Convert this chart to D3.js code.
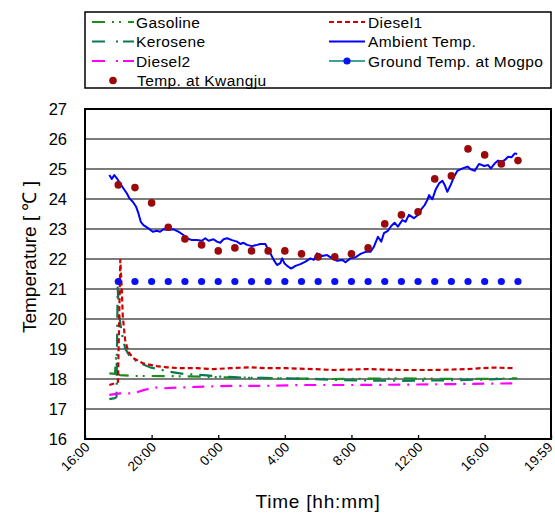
<!DOCTYPE html>
<html>
<head>
<meta charset="utf-8">
<script src="https://cdn.jsdelivr.net/npm/d3@7"></script>
<style>
  body { margin: 0; background: #fff; }
  svg { display: block; font-family: "Liberation Sans", Arial, sans-serif; }
</style>
</head>
<body>
<svg id="chart" width="555" height="514"></svg>
<script>
// Time is expressed as hours elapsed since 16:00 on the first day.
const xTickHours = [0, 4, 8, 12, 16, 20, 24, 27 + 59 / 60];
const xTickLabels = ["16:00", "20:00", "0:00", "4:00", "8:00", "12:00", "16:00", "19:59"];
const yTicks = [16, 17, 18, 19, 20, 21, 22, 23, 24, 25, 26, 27];

// Hourly station readings (18:00 .. 18:00 next day)
const stationHours = [2, 3, 4, 5, 6, 7, 8, 9, 10, 11, 12, 13, 14, 15, 16, 17, 18, 19, 20, 21, 22, 23, 24, 25, 26];
const kwangjuTemp = [24.47, 24.38, 23.87, 23.06, 22.67, 22.47, 22.27, 22.37, 22.27, 22.27, 22.27, 22.17, 22.07,
  22.07, 22.17, 22.37, 23.17, 23.47, 23.57, 24.67, 24.77, 25.67, 25.47, 25.17, 25.28];
const mogpoGroundTemp = [21.25, 21.25, 21.25, 21.25, 21.25, 21.25, 21.25, 21.25, 21.25, 21.25, 21.25, 21.25, 21.25,
  21.25, 21.25, 21.25, 21.25, 21.25, 21.25, 21.25, 21.25, 21.25, 21.25, 21.25, 21.25];

// Ambient air temperature
const ambientHours = [1.46, 1.61, 1.76, 1.91, 2.11, 2.30, 2.51, 2.67, 2.87, 3.07, 3.21, 3.35, 3.51, 3.81, 4.07, 4.31,
  4.51, 4.71, 5.01, 5.31, 5.61, 5.91, 6.12, 6.42, 6.72, 7.02, 7.22, 7.42, 7.72, 7.92, 8.12, 8.32, 8.53, 8.83, 9.13,
  9.33, 9.52, 9.73, 10.03, 10.33, 10.53, 10.83, 10.93, 11.13, 11.33, 11.53, 11.73, 11.84, 11.97, 12.14, 12.38, 12.64,
  12.94, 13.24, 13.54, 13.74, 13.94, 14.24, 14.54, 14.84, 15.14, 15.45, 15.64, 15.94, 16.25, 16.55, 16.85, 17.15,
  17.35, 17.59, 17.79, 17.95, 18.19, 18.39, 18.59, 18.79, 19.06, 19.25, 19.45, 19.75, 19.99, 20.2, 20.4, 20.56,
  20.66, 20.86, 21.06, 21.26, 21.46, 21.6, 21.76, 21.96, 22.16, 22.36, 22.67, 22.97, 23.16, 23.41, 23.66, 23.97,
  24.21, 24.37, 24.61, 24.81, 25.01, 25.21, 25.41, 25.61, 25.81, 25.95];
const ambientTemp = [24.8, 24.67, 24.8, 24.69, 24.52, 24.36, 24.19, 24.02, 23.91, 23.74, 23.52, 23.24, 23.13, 23.02,
  22.91, 22.94, 22.91, 22.99, 22.97, 22.99, 22.91, 22.8, 22.69, 22.63, 22.63, 22.61, 22.69, 22.61, 22.66, 22.58,
  22.54, 22.66, 22.69, 22.63, 22.58, 22.5, 22.54, 22.47, 22.43, 22.47, 22.5, 22.5, 22.39, 22.19, 21.97, 21.8, 21.86,
  22.02, 21.86, 21.77, 21.68, 21.77, 21.83, 21.91, 22.02, 21.97, 22.19, 22.1, 22.13, 22.02, 21.94, 21.97, 21.89,
  22.02, 22.06, 22.17, 22.24, 22.24, 22.41, 22.74, 22.58, 22.86, 22.94, 23.1, 23.21, 23.08, 23.3, 23.24, 23.47,
  23.36, 23.47, 23.66, 23.8, 23.97, 24.13, 23.99, 24.32, 24.52, 24.61, 24.47, 24.24, 24.47, 24.74, 24.94, 25.02,
  25.08, 24.99, 24.94, 25.17, 25.1, 25.13, 25.02, 25.19, 25.28, 25.24, 25.3, 25.41, 25.39, 25.52, 25.5];

// Fuel temperatures
const gasolineHours = [1.46, 1.80, 1.86, 1.90, 1.95, 2.10, 2.90, 3.91, 5.91, 8.92, 11.92, 14.93, 18.94, 22.95, 25.96];
const gasolineTemp = [18.19, 18.17, 18.7, 18.6, 18.18, 18.13, 18.1, 18.1, 18.09, 18.05, 18.02, 18.0, 18.02, 18.0, 18.02];

const keroseneHours = [1.46, 1.80, 1.89, 1.96, 2.06, 2.21, 2.41, 2.71, 3.31, 3.91, 4.41, 5.11, 5.91, 7.11, 8.12, 8.92,
  9.72, 11.92, 13.73, 14.93, 16.94, 18.94, 20.94, 22.95, 24.95, 25.96];
const keroseneTemp = [17.33, 17.36, 17.4, 21.05, 20.08, 19.52, 19.02, 18.74, 18.52, 18.39, 18.33, 18.24, 18.17, 18.13,
  18.08, 18.06, 18.04, 18.02, 18.0, 17.97, 17.95, 17.94, 17.95, 17.97, 18.0, 18.0];

const diesel1Hours = [1.46, 1.80, 1.98, 2.12, 2.21, 2.27, 2.41, 2.60, 2.90, 3.51, 4.31, 4.91, 5.71, 6.72, 7.71, 8.72,
  9.92, 10.93, 12.13, 13.73, 14.93, 16.94, 18.94, 20.94, 22.95, 23.75, 24.55, 25.86];
const diesel1Temp = [17.8, 17.86, 17.9, 21.97, 20.97, 20.08, 19.3, 18.91, 18.69, 18.52, 18.43, 18.39, 18.36, 18.36,
  18.33, 18.36, 18.39, 18.36, 18.36, 18.33, 18.3, 18.33, 18.3, 18.3, 18.33, 18.36, 18.38, 18.36];

const diesel2Hours = [1.46, 2.10, 2.90, 3.51, 4.21, 4.71, 6.72, 8.72, 10.72, 12.93, 15.94, 18.94, 21.95, 24.95, 25.96];
const diesel2Temp = [17.47, 17.52, 17.52, 17.63, 17.72, 17.69, 17.74, 17.77, 17.77, 17.8, 17.8, 17.81, 17.83, 17.85, 17.86];

const series = [
  { name: "Gasoline", hours: gasolineHours, temp: gasolineTemp, color: "#1c8c1c", dash: "13,7,2,5,2,7" },
  { name: "Kerosene", hours: keroseneHours, temp: keroseneTemp, color: "#0a7a55", dash: "13,7,2,7" },
  { name: "Diesel2", hours: diesel2Hours, temp: diesel2Temp, color: "#ff00ff", dash: "12,7,2,7" },
  { name: "Diesel1", hours: diesel1Hours, temp: diesel1Temp, color: "#cc0000", dash: "5,3" },
  { name: "Ambient Temp.", hours: ambientHours, temp: ambientTemp, color: "#0000ff", dash: null }
];

const svg = d3.select("#chart");
const plotLeft = 85, plotRight = 551, plotTop = 109, plotBottom = 439;

const x = d3.scaleLinear().domain([0, 27 + 59 / 60]).range([plotLeft, plotRight]);
const y = d3.scaleLinear().domain([16, 27]).range([plotBottom, plotTop]);

// horizontal grid
svg.append("g")
  .selectAll("line")
  .data(yTicks.slice(1))
  .join("line")
  .attr("x1", plotLeft).attr("x2", plotRight)
  .attr("y1", d => y(d)).attr("y2", d => y(d))
  .attr("stroke", "#505050").attr("stroke-width", 1.5);

// y axis labels
const yAxis = d3.axisLeft(y).tickValues(yTicks).tickSize(0).tickPadding(18).tickFormat(d3.format("d"));
svg.append("g")
  .attr("transform", `translate(${plotLeft},0)`)
  .call(yAxis)
  .call(g => g.select(".domain").remove())
  .selectAll("text")
  .attr("font-size", 16.5)
  .attr("font-family", "'Liberation Sans', Arial, sans-serif")
  .attr("fill", "#000");

// x axis: inward ticks, rotated labels
const lastTick = xTickLabels.length - 1;
const xAxis = d3.axisBottom(x).tickValues(xTickHours).tickSize(-4).tickFormat((d, i) => xTickLabels[i]);
svg.append("g")
  .attr("transform", `translate(0,${plotBottom})`)
  .call(xAxis)
  .call(g => g.select(".domain").remove())
  .call(g => g.selectAll(".tick line").attr("stroke", "#000").attr("stroke-width", 1.3))
  .selectAll("text")
  .attr("font-size", 13.5)
  .attr("font-family", "'Liberation Sans', Arial, sans-serif")
  .attr("fill", "#000")
  .attr("text-anchor", "end")
  .attr("dy", null)
  .attr("y", 0)
  .attr("transform", (d, i) => `translate(${i === lastTick ? 2 : 5},9) rotate(-45)`);

// plot frame
svg.append("rect")
  .attr("x", plotLeft).attr("y", plotTop)
  .attr("width", plotRight - plotLeft).attr("height", plotBottom - plotTop)
  .attr("fill", "none").attr("stroke", "#000").attr("stroke-width", 2);

// measured lines
const line = d3.line().x(d => x(d[0])).y(d => y(d[1]));
series.forEach(s => {
  svg.append("path")
    .datum(s.hours.map((h, i) => [h, s.temp[i]]))
    .attr("d", line)
    .attr("fill", "none")
    .attr("stroke", s.color)
    .attr("stroke-width", s.dash ? 2.2 : 2)
    .attr("stroke-dasharray", s.dash)
    .attr("stroke-linejoin", "round");
});

// ground temperature at Mogpo
svg.append("g")
  .selectAll("circle")
  .data(stationHours.map((h, i) => [h, mogpoGroundTemp[i]]))
  .join("circle")
  .attr("cx", d => x(d[0])).attr("cy", d => y(d[1]))
  .attr("r", 3.6).attr("fill", "#0a10f5");

// air temperature at Kwangju
svg.append("g")
  .selectAll("circle")
  .data(stationHours.map((h, i) => [h, kwangjuTemp[i]]))
  .join("circle")
  .attr("cx", d => x(d[0])).attr("cy", d => y(d[1]))
  .attr("r", 3.8).attr("fill", "#9a0a0a");

// axis titles
svg.append("text")
  .attr("transform", "translate(36,257) rotate(-90)")
  .attr("text-anchor", "middle")
  .attr("font-size", 19)
  .text("Temperature [ ℃ ]");

svg.append("text")
  .attr("x", 318).attr("y", 508)
  .attr("text-anchor", "middle")
  .attr("font-size", 19)
  .attr("letter-spacing", 0.8)
  .text("Time [hh:mm]");

// legend
const legend = svg.append("g");
legend.append("rect")
  .attr("x", 85).attr("y", 12).attr("width", 466).attr("height", 76)
  .attr("fill", "#fff").attr("stroke", "#000").attr("stroke-width", 1.5);

const rowY = [22, 41.5, 61, 80.5];
const legendItems = [
  { label: "Gasoline", col: 0, row: 0, color: "#1c8c1c", dash: "13,7,2,5,2,7" },
  { label: "Kerosene", col: 0, row: 1, color: "#0a7a55", dash: "13,11,2,5" },
  { label: "Diesel2", col: 0, row: 2, color: "#ff00ff", dash: "13,11,2,5" },
  { label: "Diesel1", col: 1, row: 0, color: "#cc0000", dash: "5,3" },
  { label: "Ambient Temp.", col: 1, row: 1, color: "#0000ff", dash: null },
  { label: "Ground Temp. at Mogpo", col: 1, row: 2, color: "#008080", dash: null, marker: "#0a10f5" }
];
const colX = [[92, 134, 136], [329, 365, 368]];
legendItems.forEach(it => {
  const [x0, x1, tx] = colX[it.col];
  const cy = rowY[it.row];
  legend.append("line")
    .attr("x1", x0).attr("x2", x1).attr("y1", cy).attr("y2", cy)
    .attr("stroke", it.color).attr("stroke-width", it.marker ? 1.3 : 2.2)
    .attr("stroke-dasharray", it.dash);
  if (it.marker) {
    legend.append("circle").attr("cx", (x0 + x1) / 2).attr("cy", cy).attr("r", 3.6).attr("fill", it.marker);
  }
  legend.append("text")
    .attr("x", tx).attr("y", cy + 5.5)
    .attr("font-size", 15.5)
    .attr("letter-spacing", 0.4)
    .text(it.label);
});
legend.append("circle").attr("cx", 113).attr("cy", rowY[3]).attr("r", 3.8).attr("fill", "#9a0a0a");
legend.append("text").attr("x", 137).attr("y", rowY[3] + 5.5)
  .attr("font-size", 15.5).attr("letter-spacing", 0.4).text("Temp. at Kwangju");
</script>
</body>
</html>
